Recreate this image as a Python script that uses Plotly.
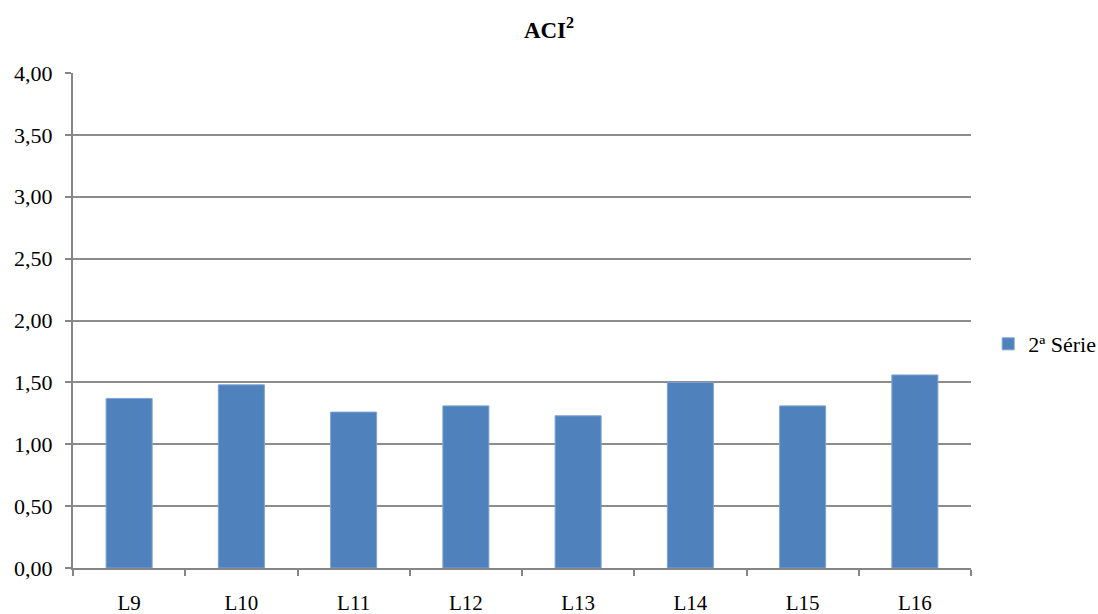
import plotly.graph_objects as go

categories = ["L9", "L10", "L11", "L12", "L13", "L14", "L15", "L16"]
values = [1.37, 1.48, 1.26, 1.31, 1.23, 1.50, 1.31, 1.56]
series_name = "2ª Série"
y_ticks = [0, 0.5, 1, 1.5, 2, 2.5, 3, 3.5, 4]

fig = go.Figure()
fig.add_trace(go.Bar(
    x=categories, y=values, name=series_name,
    marker=dict(color="#4F81BD", line=dict(color="#7FA3D3", width=1)),
))

font = "Liberation Serif"
fig.update_layout(
    width=1098, height=614,
    template="none",
    paper_bgcolor="white", plot_bgcolor="white",
    margin=dict(l=73, r=127, t=73, b=46, pad=0, autoexpand=False),
    separators=",.",
    font=dict(family=font, size=21, color="black"),
    title=dict(text="<b>ACI<sup>2</sup></b>", x=0.5, xanchor="center", y=0.951, yanchor="middle",
               font=dict(family=font, size=23, color="black")),
    bargap=0.59,
    showlegend=True,
    legend=dict(x=0.9, xanchor="left", xref="container", y=0.4525, yanchor="middle",
                font=dict(family=font, size=22, color="black"), itemwidth=30,
                bgcolor="rgba(0,0,0,0)"),
    xaxis=dict(
        showline=True, linecolor="#868686", linewidth=2,
        ticks="outside", tickson="boundaries", ticklen=6, tickcolor="#868686", tickwidth=2,
        showgrid=False, ticklabelstandoff=15, automargin=False,
        tickfont=dict(family=font, size=21, color="black"),
    ),
    yaxis=dict(
        range=[0, 4], tickvals=y_ticks, tickformat=".2f",
        showline=True, linecolor="#868686", linewidth=2,
        ticks="outside", ticklen=6, tickcolor="#868686", tickwidth=2,
        showgrid=True, gridcolor="#8C8C8C", gridwidth=1.5,
        zeroline=False, ticklabelstandoff=8, automargin=False,
        tickfont=dict(family=font, size=22, color="black"),
    ),
)

fig.write_html("out.html", config={"displayModeBar": False},
               post_script="document.body.style.margin='0';document.body.style.overflow='hidden';")
